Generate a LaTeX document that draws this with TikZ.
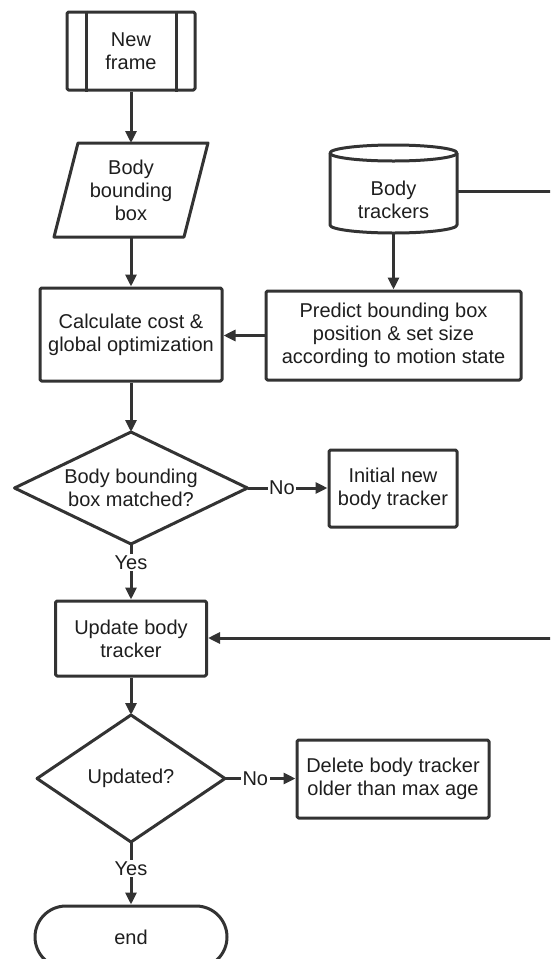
\documentclass[tikz,border=0pt]{standalone}
\usepackage{fontspec}
\setmainfont{Liberation Sans}
\usetikzlibrary{arrows.meta}
\definecolor{ln}{HTML}{333333}
\definecolor{tx}{HTML}{1E1E1E}
\begin{document}
\begin{tikzpicture}[x=1pt,y=1pt,
  line/.style={draw=ln, line width=3pt, line join=round},
  arr/.style={line, -{Triangle[length=12pt,width=11pt]}},
  txt/.style={text=tx, font=\fontsize{20}{23}\selectfont, align=center, inner sep=0pt},
  box/.style={txt, line, rectangle, rounded corners=1.5pt},
  lbl/.style={txt, fill=white, inner sep=1.5pt},
  shapebox/.style={txt, outer sep=0pt},
]
\useasboundingbox (0,0) rectangle (550,-959);
\clip (0,0) rectangle (550,-959);

% New frame
\node[box, minimum width=128, minimum height=78] (nf) at (131,-51) {New\\frame};
\draw[line] ([xshift=20.5]nf.north west) -- ([xshift=20.5]nf.south west);
\draw[line] ([xshift=-20]nf.north east) -- ([xshift=-20]nf.south east);

% Body bounding box (parallelogram)
\node[shapebox, minimum width=130, minimum height=94] (bbb) at (131,-190) {Body\\bounding\\box};
\draw[line] ([xshift=-12]bbb.south west) -- ([xshift=12]bbb.north west)
  -- ([xshift=12]bbb.north east) -- ([xshift=-12]bbb.south east) -- cycle;

% Body trackers (cylinder)
\node[shapebox, minimum width=127, minimum height=88] (cyl) at (393.5,-189) {};
\node[txt] (cylt) at (393.5,-200) {Body\\trackers};
\draw[line] ([yshift=-8]cyl.north west) -- ([yshift=8]cyl.south west)
  arc[start angle=180, end angle=360, x radius=63.5, y radius=8]
  -- ([yshift=-8]cyl.north east);
\draw[line] ([yshift=-8]cyl.north) ellipse[x radius=63.5, y radius=8];
\coordinate (e1) at (560,-191);
\draw[line] (cyl.east |- e1) -- (e1);

% Predict
\node[box, minimum width=255, minimum height=89] (pred) at (393.5,-335.5)
  {Predict bounding box\\position \& set size\\according to motion state};
% Calculate
\node[box, minimum width=182, minimum height=93] (calc) at (131,-334.5)
  {Calculate cost \&\\global optimization};

\draw[arr] (nf) -- (bbb);
\draw[arr] (bbb) -- (calc);
\draw[arr] (cyl) -- (pred);
\draw[arr] (pred.west) -- (pred.west -| calc.east);

% Decision 1
\node[shapebox, minimum width=233, minimum height=112] (d1) at (131,-488) {Body bounding\\box matched?};
\draw[line] (d1.north) -- (d1.east) -- (d1.south) -- (d1.west) -- cycle;
\draw[arr] (calc) -- (d1.north);

\node[box, minimum width=128, minimum height=77] (init) at (393,-488.5) {Initial new\\body tracker};
\draw[arr] (d1.east) -- node[lbl, pos=0.43] {No} (init.west |- d1.east);

% Update
\node[box, minimum width=151, minimum height=75] (upd) at (131,-638.5) {Update body\\tracker};
\draw[arr] (d1.south) -- node[lbl, pos=0.33] {Yes} (upd.north);
\coordinate (e2) at (560,-638);
\draw[arr] (e2) -- (e2 -| upd.east);

% Decision 2
\node[shapebox, minimum width=188, minimum height=127] (d2) at (131,-778.5) {Updated?};
\draw[line] (d2.north) -- (d2.east) -- (d2.south) -- (d2.west) -- cycle;
\draw[arr] (upd) -- (d2.north);

\node[box, minimum width=192, minimum height=78] (del) at (393,-779) {Delete body tracker\\older than max age};
\draw[arr] (d2.east) -- node[lbl, pos=0.43] {No} (del.west |- d2.east);

% End
\node[box, rounded corners=31pt, minimum width=192, minimum height=62] (end) at (131,-937) {end};
\draw[arr] (d2.south) -- node[lbl, pos=0.42] {Yes} (end.north);
\end{tikzpicture}
\end{document}
